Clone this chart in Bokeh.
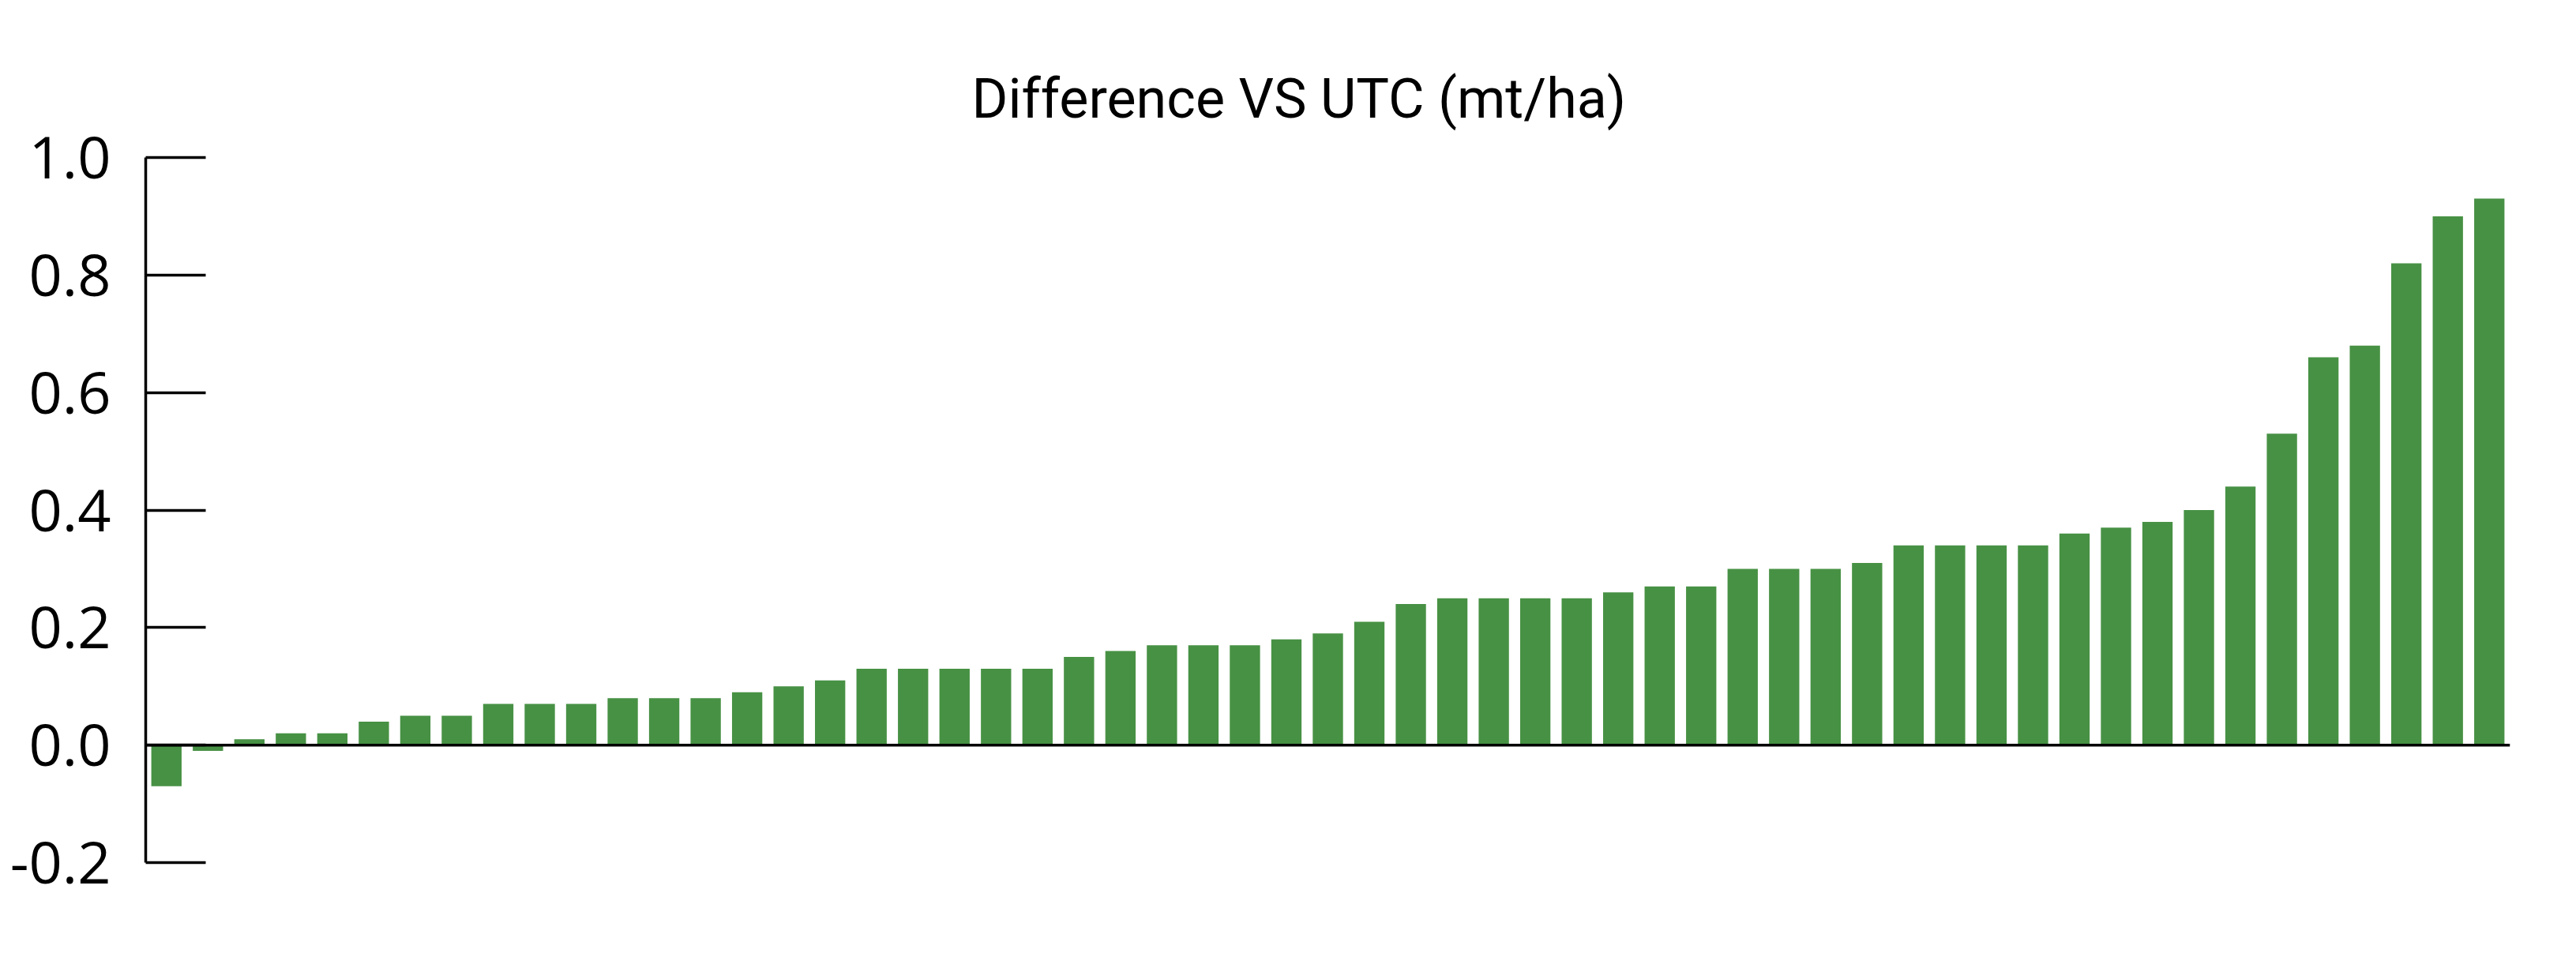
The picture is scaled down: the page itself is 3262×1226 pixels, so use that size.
from bokeh.plotting import figure
from bokeh.models import Range1d, FactorRange, FixedTicker, PrintfTickFormatter, Span, Title
from bokeh.embed import file_html
from bokeh.resources import INLINE

# ---- data ----
categories = [str(i) for i in range(1, 58)]
values = [-0.07, -0.01, 0.01, 0.02, 0.02, 0.04, 0.05, 0.05, 0.07, 0.07,
          0.07, 0.08, 0.08, 0.08, 0.09, 0.10, 0.11, 0.13, 0.13, 0.13,
          0.13, 0.13, 0.15, 0.16, 0.17, 0.17, 0.17, 0.18, 0.19, 0.21,
          0.24, 0.25, 0.25, 0.25, 0.25, 0.26, 0.27, 0.27, 0.30, 0.30,
          0.30, 0.31, 0.34, 0.34, 0.34, 0.34, 0.36, 0.37, 0.38, 0.40,
          0.44, 0.53, 0.66, 0.68, 0.82, 0.90, 0.93]
y_ticks = [-0.2, 0.0, 0.2, 0.4, 0.6, 0.8, 1.0]
title_text = "Difference VS UTC (mt/ha)"

BAR_COLOR = "#479144"

p = figure(width=3240, height=1205,
           x_range=FactorRange(*categories, range_padding=0),
           y_range=Range1d(-0.2, 1.0),
           x_axis_location=None,
           output_backend="svg", toolbar_location=None,
           min_border_left=184, min_border_right=62,
           min_border_top=199, min_border_bottom=113)

p.title = None
p.add_layout(Title(text=title_text, align="left", offset=1046,
                   text_font="Roboto", text_font_size="70px",
                   text_font_style="normal", text_color="black",
                   standoff=67), "above")

p.vbar(x=categories, top=values, bottom=0, width=0.73,
       fill_color=BAR_COLOR, line_color=None)

p.add_layout(Span(location=0, dimension="width", line_color="black",
                  line_width=3.5))

yax = p.yaxis[0]
yax.ticker = FixedTicker(ticks=y_ticks)
yax.formatter = PrintfTickFormatter(format="%.1f")
yax.major_tick_in = 76
yax.major_tick_out = 0
yax.minor_tick_in = 0
yax.minor_tick_out = 0
yax.major_tick_line_width = 3.5
yax.major_tick_line_color = "black"
yax.axis_line_width = 3.5
yax.axis_line_color = "black"
yax.major_label_standoff = 44
yax.major_label_text_font = "Open Sans"
yax.major_label_text_font_size = "74px"
yax.major_label_text_color = "black"

p.xgrid.visible = False
p.ygrid.visible = False
p.outline_line_color = None
p.background_fill_color = "white"
p.border_fill_color = "white"

open("out.html", "w").write(file_html(p, INLINE))
